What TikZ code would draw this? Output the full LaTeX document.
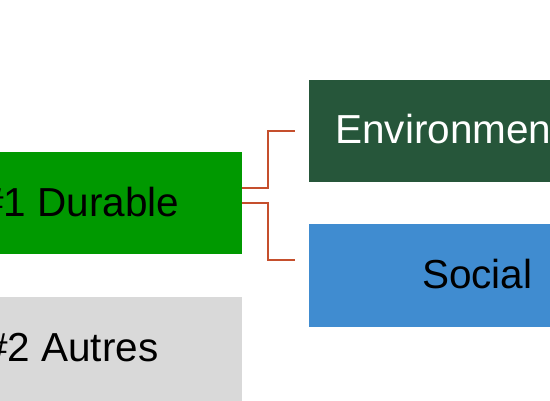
\documentclass[tikz,border=0pt]{standalone}
\usepackage{fontspec}
\setmainfont{Liberation Sans}
\definecolor{durgreen}{RGB}{0,153,0}
\definecolor{envgreen}{RGB}{38,86,58}
\definecolor{socblue}{RGB}{64,140,208}
\definecolor{othgray}{RGB}{217,217,217}
\definecolor{connred}{RGB}{197,79,45}
\begin{document}
\begin{tikzpicture}[x=1pt,y=-1pt,
  box/.style={draw=none,inner sep=0pt,outer sep=0pt,rectangle},
  txt/.style={inner sep=0pt,outer sep=0pt,anchor=base west,font=\fontsize{40.5}{48}\selectfont},
  conn/.style={draw=connred,line width=2pt}]
\useasboundingbox (0,0) rectangle (550,400);
\clip (0,0) rectangle (550,400);
\node[box,fill=durgreen,minimum width=342pt,minimum height=102pt] (dur) at (71,203) {};
\node[box,fill=othgray,minimum width=342pt,minimum height=153pt] (aut) at (71,373.5) {};
\node[box,fill=envgreen,minimum width=341pt,minimum height=102pt] (env) at (479.5,131) {};
\node[box,fill=socblue,minimum width=341pt,minimum height=103pt] (soc) at (479.5,275.5) {};
\node[txt,text=black] (durt) at (-19,216) {\#1 Durable};
\node[txt,text=black] (autt) at (-15,361) {\#2 Autres};
\node[txt,text=white] (envt) at (335.3,143.3) {Environment};
\node[txt,text=black] (soct) at (422.1,288.3) {Social};
\coordinate (e1) at (295,131.3);
\coordinate (e2) at (295,260);
\draw[conn] ([yshift=15pt]dur.east) -- ++(26.3,0) |- (e1);
\draw[conn] (dur.east) -- ++(26.3,0) |- (e2);
\end{tikzpicture}
\end{document}
